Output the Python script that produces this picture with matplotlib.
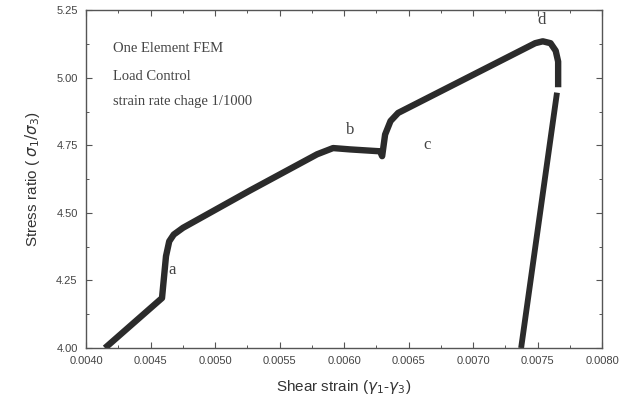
import numpy as np
import matplotlib
matplotlib.use("Agg")
import matplotlib.pyplot as plt
from matplotlib.ticker import MultipleLocator, FormatStrFormatter

# Curve (shear strain, stress ratio)
strain_loading = [0.004147, 0.004589, 0.004620, 0.004645, 0.004680, 0.004752,
                  0.005271, 0.005791, 0.005915, 0.006047, 0.006279, 0.006295,
                  0.006318, 0.006360, 0.006419, 0.007481, 0.007540, 0.007600,
                  0.007640, 0.007659, 0.007659]
ratio_loading = [4.000, 4.185, 4.340, 4.395, 4.420, 4.445,
                 4.583, 4.717, 4.740, 4.735, 4.728, 4.710,
                 4.790, 4.840, 4.870, 5.128, 5.135, 5.128,
                 5.100, 5.060, 4.965]
strain_unloading = [0.007650, 0.007372]
ratio_unloading = [4.945, 4.000]

notes = ["One Element FEM", "Load Control", "strain rate chage 1/1000"]
point_labels = ["a", "b", "c", "d"]

fig = plt.figure(figsize=(6.38, 4.09), dpi=100)
ax = fig.add_axes([0.1348, 0.149, 0.809, 0.826])

line_color = "#2b2b2b"
ax.plot(strain_loading, ratio_loading, color=line_color, lw=4.6,
        solid_joinstyle="round", solid_capstyle="butt")
ax.plot(strain_unloading, ratio_unloading, color=line_color, lw=4.2,
        solid_capstyle="butt")

ax.set_xlim(0.0040, 0.0080)
ax.set_ylim(4.00, 5.25)
ax.xaxis.set_major_locator(MultipleLocator(0.0005))
ax.xaxis.set_minor_locator(MultipleLocator(0.00025))
ax.yaxis.set_major_locator(MultipleLocator(0.25))
ax.yaxis.set_minor_locator(MultipleLocator(0.125))
ax.xaxis.set_major_formatter(FormatStrFormatter("%.4f"))
ax.yaxis.set_major_formatter(FormatStrFormatter("%.2f"))

ax.tick_params(which="both", direction="in", top=True, right=True,
               colors="#555555", labelcolor="#444444")
ax.tick_params(which="major", length=4, width=0.8, labelsize=8, pad=6)
ax.tick_params(which="minor", length=2.5, width=0.7)
for lab in ax.get_xticklabels() + ax.get_yticklabels():
    lab.set_family("Liberation Sans")
for s in ax.spines.values():
    s.set_color("#555555")
    s.set_linewidth(1.0)

ax.set_xlabel(r"Shear strain ($\gamma_1$-$\gamma_3$)", fontsize=11,
              family="Liberation Sans", color="#333333", labelpad=8)
ax.set_ylabel(r"Stress ratio ( $\sigma_1/\sigma_3$)", fontsize=11,
              family="Liberation Sans", color="#333333", labelpad=10)

serif = "Liberation Serif"
for txt, yy in zip(notes, [0.888, 0.805, 0.730]):
    ax.text(0.052, yy, txt, transform=ax.transAxes, fontsize=10.5,
            family=serif, color="#444444", va="center", ha="left")

label_pos = [(0.167, 0.231), (0.512, 0.645), (0.661, 0.600), (0.882, 0.970)]
for t, (px, py) in zip(point_labels, label_pos):
    ax.text(px, py, t, transform=ax.transAxes, fontsize=12, family=serif,
            color="#444444", ha="center", va="center")

fig.savefig("out.png", dpi=100)
